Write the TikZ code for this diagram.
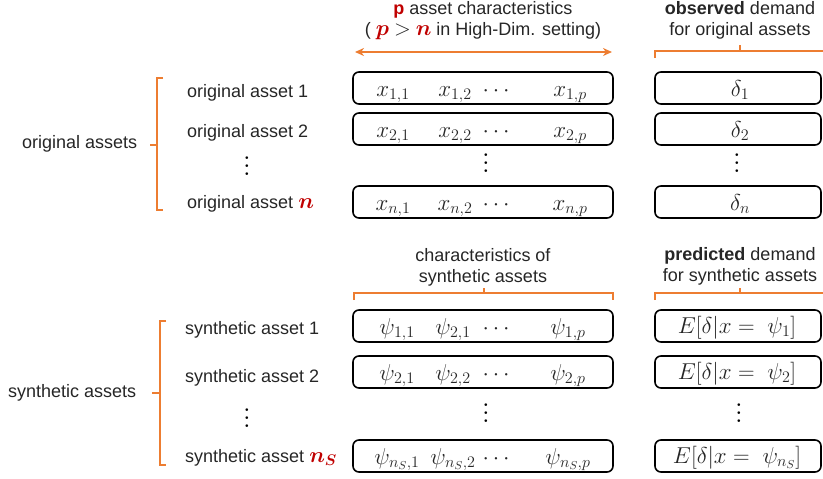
\RequirePackage{fix-cm}
\documentclass[tikz,border=0pt]{standalone}
\usepackage{amsmath}
\usepackage{fontspec}
\setmainfont{Liberation Sans}
\usetikzlibrary{arrows.meta, positioning}
\definecolor{bracecol}{RGB}{237,125,49}
\definecolor{accent}{RGB}{192,0,0}
\newcommand{\redsym}[1]{{\fontsize{22}{21}\selectfont$\textcolor{accent}{\boldsymbol{#1}}$}}
\newcommand{\colvdots}{\vbox{\baselineskip=8pt\lineskiplimit=0pt\hbox{$.$}\hbox{$.$}\hbox{$.$}}}

\begin{document}
\begin{tikzpicture}[
    x=1pt, y=-1pt,
    every node/.style={font=\fontsize{18}{21}\selectfont, inner sep=0pt, text=black!85},
    rowbox/.style={draw, rounded corners=6pt, line width=1.6pt, minimum height=32pt},
    wide/.style={rowbox, minimum width=260pt},
    narrow/.style={rowbox, minimum width=166pt},
    entry/.style={font=\fontsize{23}{26}\selectfont, anchor=base},
    vdotnode/.style={font=\fontsize{28}{30}\selectfont, text=black},
    rowlabel/.style={anchor=base west},
    bracket/.style={draw=bracecol, line width=1.6pt}
]
\useasboundingbox (0,0) rectangle (823,479);

% headers
\node[align=center] (hchar) at (483,21) {\textcolor{accent}{\textbf{p}} asset characteristics\\( \redsym{p} {\fontsize{22}{21}\selectfont$>$} \redsym{n} in High-Dim. setting)};
\node[align=center] (hobs) at (740,20) {\textbf{observed} demand\\for original assets};
\node[align=center] (hsynchar) at (483,267) {characteristics of\\synthetic assets};
\node[align=center] (hpred) at (740,266) {\textbf{predicted} demand\\for synthetic assets};

% original assets
\node[wide] (x1) at (483,88) {};
\node[wide] (x2) at (483,129) {};
\node[vdotnode] (xdots) at (486,163) {\colvdots};
\node[wide] (xn) at (483,202) {};
\foreach \r/\i in {x1/1, x2/2, xn/n} {
  \node[entry] (\r-a) at ([shift={(-90,8)}]\r.center) {$x_{\i,1}$};
  \node[entry] (\r-b) at ([shift={(-28,8)}]\r.center) {$x_{\i,2}$};
  \node[entry] (\r-c) at ([shift={(15,8)}]\r.center) {$\cdots$};
  \node[entry] (\r-d) at ([shift={(87,8)}]\r.center) {$x_{\i,p}$};
}

\node[narrow] (d1) at (738,88) {};
\node[narrow] (d2) at (738,129) {};
\node[vdotnode] (ddots) at (737,163) {\colvdots};
\node[narrow] (dn) at (738,202) {};
\foreach \r/\i in {d1/1, d2/2, dn/n} {
  \node[entry] (\r-v) at ([shift={(2,8)}]\r.center) {$\delta_{\i}$};
}

\node[rowlabel] (o1) at (187,97) {original asset 1};
\node[rowlabel] (o2) at (187,137) {original asset 2};
\node[vdotnode] (odots) at (247,166) {\colvdots};
\node[rowlabel] (on) at (187,208) {original asset \redsym{n}};
\node[rowlabel] (orig) at (22,148) {original assets};

% synthetic assets
\node[wide] (s1) at (483,326) {};
\node[wide] (s2) at (483,372) {};
\node[vdotnode] (sdots) at (486,413) {\colvdots};
\node[wide] (sn) at (483,456) {};
\foreach \r/\a/\b/\c in {s1/{1,1}/{2,1}/{1,p}, s2/{2,1}/{2,2}/{2,p}, sn/{n_S,1}/{n_S,2}/{n_S,p}} {
  \node[entry] (\r-a) at ([shift={(-86,8)}]\r.center) {$\psi_{\a}$};
  \node[entry] (\r-b) at ([shift={(-30,8)}]\r.center) {$\psi_{\b}$};
  \node[entry] (\r-c) at ([shift={(15,8)}]\r.center) {$\cdots$};
  \node[entry] (\r-d) at ([shift={(85,8)}]\r.center) {$\psi_{\c}$};
}

\node[narrow] (e1) at (738,326) {};
\node[narrow] (e2) at (738,372) {};
\node[vdotnode] (edots) at (739,413) {\colvdots};
\node[narrow] (en) at (738,456) {};
\foreach \r/\i in {e1/1, e2/2, en/{n_S}} {
  \node[entry] (\r-v) at ([shift={(-1,7)}]\r.center) {$E[\delta|x =\ \psi_{\i}]$};
}

\node[rowlabel] (y1) at (185,334) {synthetic asset 1};
\node[rowlabel] (y2) at (185,382) {synthetic asset 2};
\node[vdotnode] (ydots) at (247,418) {\colvdots};
\node[rowlabel] (yn) at (185,462) {synthetic asset \redsym{n_S}};
\node[rowlabel] (synth) at (8,397) {synthetic assets};

% brackets and arrow
\coordinate (arrL) at (355,52);
\coordinate (arrR) at (612,52);
\draw[bracket, {Stealth[length=9pt,width=8pt]}-{Stealth[length=9pt,width=8pt]}] (arrL) -- (arrR);
\draw[bracket] (655,58) -- (655,51) -- (823,51) (740,51) -- (740,45);
\draw[bracket] (163,78) -- (157,78) -- (157,210) -- (163,210) (157,145) -- (150,145);
\draw[bracket] (354,300) -- (354,293) -- (613,293) -- (613,300) (484,293) -- (484,288);
\draw[bracket] (655,300) -- (655,293) -- (823,293) (740,293) -- (740,288);
\draw[bracket] (166,321) -- (160,321) -- (160,465) -- (166,465) (160,393) -- (152,393);

\end{tikzpicture}
\end{document}
